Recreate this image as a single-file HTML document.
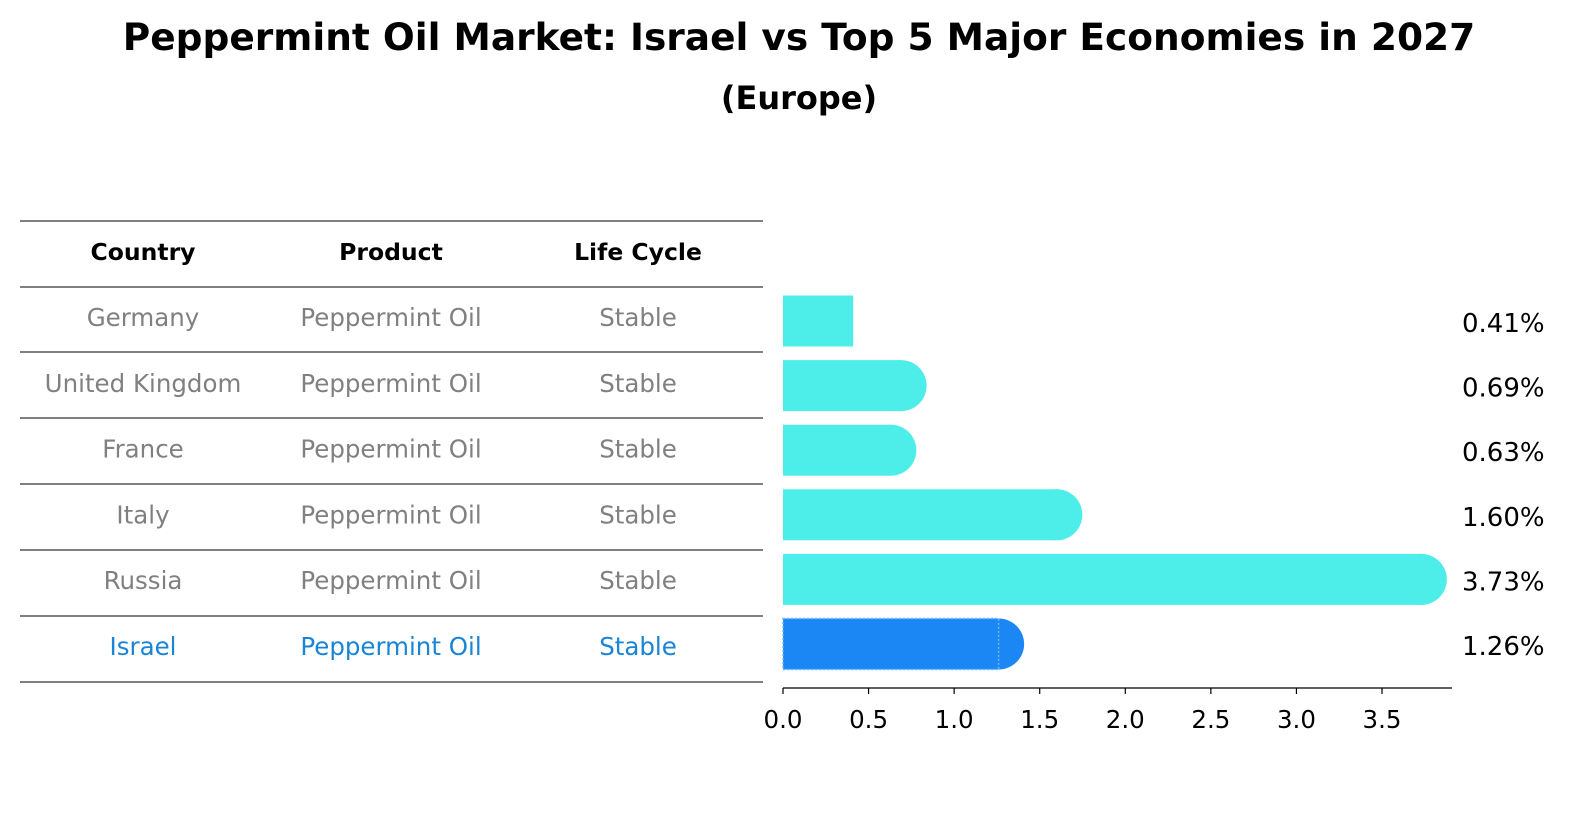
<!DOCTYPE html>
<html><head><meta charset="utf-8"><style>
body{margin:0;background:#fff;font-family:"Liberation Sans","DejaVu Sans",sans-serif;overflow:hidden}
svg{display:block}
</style></head><body>
<svg id="chart" width="1586" height="823" xmlns="http://www.w3.org/2000/svg" font-family="DejaVu Sans, Liberation Sans, sans-serif">
<text x="799" y="50" text-anchor="middle" font-size="37.5" font-weight="bold">Peppermint Oil Market: Israel vs Top 5 Major Economies in 2027</text>
<text x="799" y="109" text-anchor="middle" font-size="32" font-weight="bold">(Europe)</text>
<g id="table"></g>
<g id="bars"></g>
<g id="axis"></g>
</svg>
<script>
const countries=["Germany","United Kingdom","France","Italy","Russia","Israel"];
const products=["Peppermint Oil","Peppermint Oil","Peppermint Oil","Peppermint Oil","Peppermint Oil","Peppermint Oil"];
const lifeCycles=["Stable","Stable","Stable","Stable","Stable","Stable"];
const values=[0.41,0.69,0.63,1.60,3.73,1.26];
const valueLabels=["0.41%","0.69%","0.63%","1.60%","3.73%","1.26%"];
const xTicks=[0,0.5,1,1.5,2,2.5,3,3.5];
const NS="http://www.w3.org/2000/svg";
function mk(tag,attrs,parent,txt){const e=document.createElementNS(NS,tag);for(const k in attrs)e.setAttribute(k,attrs[k]);if(txt!==undefined)e.textContent=txt;parent.appendChild(e);return e;}
const x0=783,scale=(1382-783)/3.5;
const xs=v=>x0+v*scale;
const rowY=i=>321+i*64.6;
const tbl=document.getElementById('table');
const lineYs=[221,287,352,418,484,550,616,682];
lineYs.forEach((y,i)=>{const l=mk('line',{x1:20,x2:763,y1:y,y2:y,stroke:'#000','stroke-width':1},tbl);

});
const cols=[143,391,638];
["Country","Product","Life Cycle"].forEach((h,j)=>{const t=mk('text',{x:cols[j],y:260,'text-anchor':'middle','font-size':23.5,'font-weight':'bold'},tbl,h);

});
countries.forEach((c,i)=>{const y=326+i*65.8;const col=i===countries.length-1?'#1a85d6':'#808080';
[c,products[i],lifeCycles[i]].forEach((s,j)=>{const t=mk('text',{x:cols[j],y:y,'text-anchor':'middle','font-size':24.5,fill:col},tbl,s);

});});
const bars=document.getElementById('bars');
values.forEach((v,i)=>{const isr=i===values.length-1;const color=isr?'#1a87f5':'#4deeea';const cy=rowY(i);const h=51;
const r=mk('rect',{x:x0,y:cy-h/2,width:xs(v)-x0,height:h,fill:color},bars);


if(v>=0.5){const c=mk('circle',{cx:xs(v),cy:cy,r:h/2,fill:color},bars);

}
if(isr){const o=mk('rect',{x:x0,y:cy-h/2,width:xs(v)-x0,height:h,fill:'none',stroke:'#6fb6ff','stroke-width':1.5,'stroke-dasharray':'2,2'},bars);

}
const t=mk('text',{x:1462,y:cy+11,'font-size':26},bars,valueLabels[i]);

});
const ax=document.getElementById('axis');
const al=mk('line',{x1:x0,x2:1452,y1:688,y2:688,stroke:'#000','stroke-width':1.3},ax);


xTicks.forEach(v=>{const tk=mk('line',{x1:xs(v),x2:xs(v),y1:688,y2:694,stroke:'#000','stroke-width':1.2},ax);


const t=mk('text',{x:xs(v),y:728,'text-anchor':'middle','font-size':24.5},ax,v.toFixed(1));

});
</script>
</body></html>
